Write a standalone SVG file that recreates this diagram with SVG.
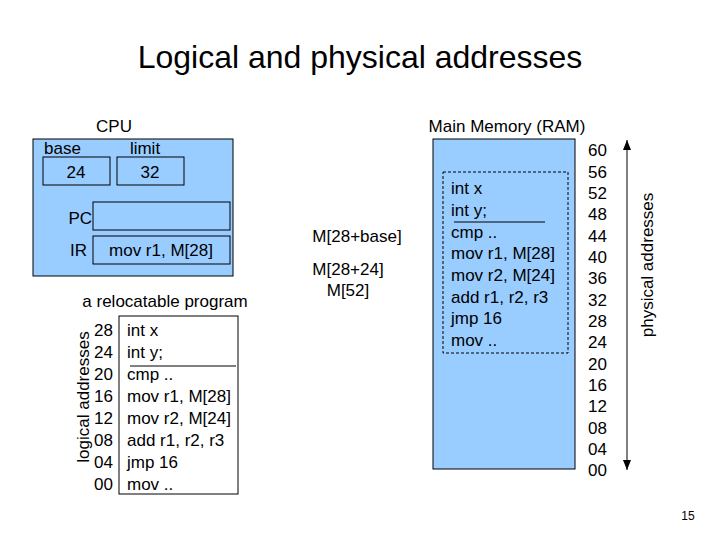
<svg xmlns="http://www.w3.org/2000/svg" width="720" height="540" viewBox="0 0 720 540">
<style>
text{font-family:"Liberation Sans",Arial,sans-serif;font-size:17px;fill:#000}
.box{fill:#99ccff;stroke:#000;stroke-width:1}
.w{fill:#fff;stroke:#000;stroke-width:1}
.m{text-anchor:middle}.e{text-anchor:end}
</style>
<defs><marker id="ah" markerWidth="10" markerHeight="8" refX="10" refY="4" orient="auto-start-reverse" markerUnits="userSpaceOnUse"><path d="M0,0 L10,4 L0,8 Z" fill="#000"/></marker></defs>
<rect width="720" height="540" fill="#fff"/>
<text x="360" y="68" class="m" style="font-size:32px">Logical and physical addresses</text>
<g id="cpu">
<text x="114" y="132" class="m">CPU</text>
<rect class="box" x="33" y="139" width="200" height="137"/>
<text x="44" y="154">base</text>
<text x="145" y="154" class="m">limit</text>
<rect class="box" x="43" y="157" width="67" height="28"/>
<text x="76" y="178" class="m">24</text>
<rect class="box" x="117" y="157" width="67" height="28"/>
<text x="150" y="178" class="m">32</text>
<text x="92" y="224" class="e">PC</text>
<rect class="box" x="93" y="202" width="137" height="28"/>
<text x="87" y="256" class="e">IR</text>
<rect class="box" x="93" y="236" width="137" height="28"/>
<text x="161" y="256" class="m">mov  r1, M[28]</text>
</g>
<g id="program">
<text x="165" y="307" class="m">a relocatable program</text>
<text transform="translate(89,397) rotate(-90)" class="m">logical addresses</text>
<rect class="w" x="119" y="316" width="119" height="178"/>
<line x1="130" y1="366" x2="236" y2="366" stroke="#000"/>
<text x="113" y="336" class="e">28</text><text x="113" y="358" class="e">24</text><text x="113" y="380" class="e">20</text><text x="113" y="402" class="e">16</text><text x="113" y="424" class="e">12</text><text x="113" y="446" class="e">08</text><text x="113" y="468" class="e">04</text><text x="113" y="490" class="e">00</text>
<text x="127" y="336">int x</text><text x="127" y="358">int y;</text><text x="127" y="380">cmp ..</text><text x="127" y="402">mov r1, M[28]</text><text x="127" y="424">mov r2, M[24]</text><text x="127" y="446">add r1, r2, r3</text><text x="127" y="468">jmp 16</text><text x="127" y="490">mov ..</text>
</g>
<g id="calc">
<text x="357" y="242" class="m">M[28+base]</text>
<text x="348" y="275" class="m">M[28+24]</text>
<text x="348" y="296" class="m">M[52]</text>
</g>
<g id="memory">
<text x="507" y="132" class="m">Main Memory (RAM)</text>
<rect class="box" x="433" y="139" width="142" height="330"/>
<rect x="443" y="172" width="125" height="181" fill="none" stroke="#000" stroke-dasharray="3,2"/>
<line x1="454" y1="222" x2="545" y2="222" stroke="#000"/>
<text x="451" y="194">int x</text><text x="451" y="216">int y;</text><text x="451" y="238">cmp ..</text><text x="451" y="259">mov r1, M[28]</text><text x="451" y="281">mov r2, M[24]</text><text x="451" y="303">add r1, r2, r3</text><text x="451" y="324">jmp 16</text><text x="451" y="346">mov ..</text>
<text x="607" y="156" class="e">60</text><text x="607" y="178" class="e">56</text><text x="607" y="199" class="e">52</text><text x="607" y="220" class="e">48</text><text x="607" y="242" class="e">44</text><text x="607" y="263" class="e">40</text><text x="607" y="284" class="e">36</text><text x="607" y="306" class="e">32</text><text x="607" y="327" class="e">28</text><text x="607" y="348" class="e">24</text><text x="607" y="370" class="e">20</text><text x="607" y="391" class="e">16</text><text x="607" y="412" class="e">12</text><text x="607" y="434" class="e">08</text><text x="607" y="455" class="e">04</text><text x="607" y="476" class="e">00</text>
<text transform="translate(653,265) rotate(-90)" class="m">physical addresses</text>
</g>
<g id="connectors">
<line x1="627" y1="140" x2="627" y2="470" stroke="#000" marker-start="url(#ah)" marker-end="url(#ah)"/>
</g>
<text x="688" y="520" class="m" style="font-size:12px">15</text>
</svg>
